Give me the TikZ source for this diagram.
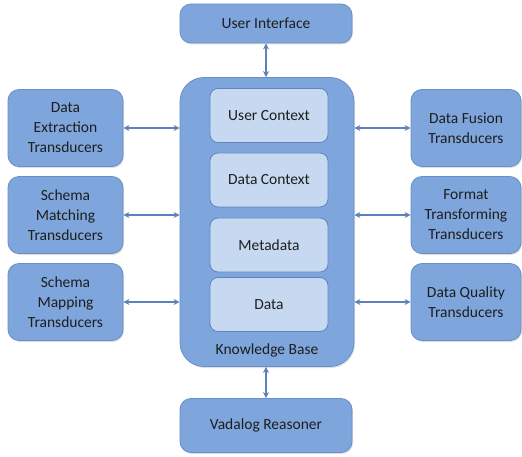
\documentclass[tikz,border=0pt]{standalone}
\usepackage{fontspec}
\setmainfont{Carlito}
\usepackage{tikz}
\usetikzlibrary{arrows.meta,shadows}

\definecolor{boxblue}{HTML}{7EA6DC}
\definecolor{boxline}{HTML}{6A8FC6}
\definecolor{innerblue}{HTML}{C7D9F1}
\definecolor{innerline}{HTML}{5F84BC}
\definecolor{arrowblue}{HTML}{5B82BC}
\definecolor{txt}{HTML}{1E1E1E}

\begin{document}
\begin{tikzpicture}[x=1pt,y=-1pt,
  font=\fontsize{15.5}{20}\selectfont, text=txt,
  outerbox/.style={draw=boxline, fill=boxblue, rounded corners=11pt,
    line width=0.8pt, align=center, inner sep=0pt,
    drop shadow={shadow xshift=1pt,shadow yshift=-1.5pt,opacity=0.25}},
  innerbox/.style={draw=innerline, fill=innerblue, rounded corners=8pt,
    line width=0.8pt, minimum width=118pt, minimum height=54pt, inner sep=0pt},
  conn/.style={draw=arrowblue, line width=1.8pt,
    {Stealth[length=6pt,width=6pt]}-{Stealth[length=6pt,width=6pt]}}]
  \useasboundingbox (0,0) rectangle (522,457);
  % knowledge base with its parts
  \node[outerbox, rounded corners=24pt, minimum width=174pt, minimum height=289pt] (kb) at (267,222) {};
  \node[innerbox] (uc) at (269,115.5) {User Context};
  \node[innerbox] (dc) at (269,180) {Data Context};
  \node[innerbox] (md) at (269,245) {Metadata};
  \node[innerbox] (dt) at (269,304.5) {Data};
  \node (kbl) at (267,350) {Knowledge Base};
  % top and bottom
  \node[outerbox, minimum width=172pt, minimum height=39pt] (ui) at (266,23.5) {User Interface};
  \node[outerbox, minimum width=172pt, minimum height=54pt] (vr) at (266,425.5) {Vadalog Reasoner};
  % transducers
  \node[outerbox, minimum width=115pt, minimum height=77pt] (dex) at (65.5,128) {Data\\Extraction\\Transducers};
  \node[outerbox, minimum width=115pt, minimum height=77pt] (smt) at (65.5,215) {Schema\\Matching\\Transducers};
  \node[outerbox, minimum width=115pt, minimum height=77pt] (smp) at (65.5,302) {Schema\\Mapping\\Transducers};
  \node[outerbox, minimum width=110pt, minimum height=77pt] (dfu) at (466,128) {Data Fusion\\Transducers};
  \node[outerbox, minimum width=110pt, minimum height=77pt] (ftr) at (466,215) {Format\\Transforming\\Transducers};
  \node[outerbox, minimum width=110pt, minimum height=77pt] (dqu) at (466,302) {Data Quality\\Transducers};
  % connectors
  \draw[conn] (ui) -- (ui |- kb.north);
  \draw[conn] (kb.south -| vr) -- (vr);
  \foreach \n in {dex,smt,smp}
    \draw[conn] (\n) -- (\n -| kb.west);
  \foreach \n in {dfu,ftr,dqu}
    \draw[conn] (\n) -- (\n -| kb.east);
\end{tikzpicture}
\end{document}
